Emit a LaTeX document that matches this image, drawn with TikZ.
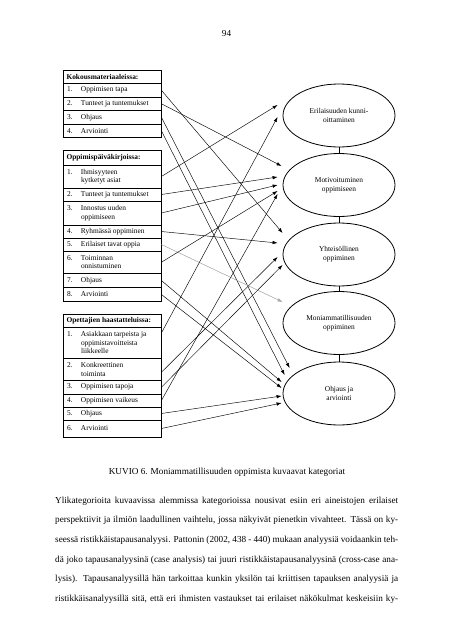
\documentclass[tikz,border=0pt]{standalone}
\usepackage{fontspec}
\setmainfont{Liberation Serif}
\usetikzlibrary{shapes.geometric,arrows.meta}
\newcommand\rw[2]{\parbox[t]{14pt}{#1}\parbox[t]{76pt}{\raggedright #2}}
\newcommand\hd[1]{\parbox[t]{91pt}{\bfseries #1}}
\begin{document}
\begin{tikzpicture}[x=1pt,y=-1pt,
  rowbox/.style={draw, line width=0.8pt, rectangle, minimum width=98pt, inner sep=0pt, font=\fontsize{7.4}{8.5}\selectfont},
  ell/.style={draw, ellipse, line width=0.8pt, minimum width=112pt, minimum height=63pt, inner sep=0pt, align=center, font=\fontsize{7.4}{9}\selectfont},
  link/.style={-{Latex[length=5pt,width=3.4pt]}, line width=0.45pt},
  glink/.style={link, draw=black!35, fill=black!35},
  body/.style={anchor=mid west, inner sep=0pt, font=\fontsize{9.2}{11}\selectfont},
  plain/.style={inner sep=0pt, font=\fontsize{9.2}{11}\selectfont}]
\useasboundingbox (0,0) rectangle (453,640);
\fill[white] (0,0) rectangle (453,640);
\node[plain] (pnum) at (226.5,33) {94};
% Box 1
\node[rowbox, minimum height=13.5pt] (h1) at (112,76.75) {\hd{Kokousmateriaaleissa:}};
\node[rowbox, minimum height=13.5pt] (b1r1) at (112,90.25) {\rw{1.}{Oppimisen tapa}};
\node[rowbox, minimum height=13.5pt] (b1r2) at (112,103.75) {\rw{2.}{Tunteet ja tuntemukset}};
\node[rowbox, minimum height=13.5pt] (b1r3) at (112,117.25) {\rw{3.}{Ohjaus}};
\node[rowbox, minimum height=13.5pt] (b1r4) at (112,130.75) {\rw{4.}{Arviointi}};
% Box 2
\node[rowbox, minimum height=15pt] (h2) at (112,157.5) {\hd{Oppimispäiväkirjoissa:}};
\node[rowbox, minimum height=23pt] (b2r1) at (112,176.5) {\rw{1.}{Ihmisyyteen\\kytketyt asiat}};
\node[rowbox, minimum height=13pt] (b2r2) at (112,194.5) {\rw{2.}{Tunteet ja tuntemukset}};
\node[rowbox, minimum height=24pt] (b2r3) at (112,213) {\rw{3.}{Innostus uuden\\oppimiseen}};
\node[rowbox, minimum height=13pt] (b2r4) at (112,231.5) {\rw{4.}{Ryhmässä oppiminen}};
\node[rowbox, minimum height=13pt] (b2r5) at (112,244.5) {\rw{5.}{Erilaiset tavat oppia}};
\node[rowbox, minimum height=22.5pt] (b2r6) at (112,262.25) {\rw{6.}{Toiminnan\\onnistuminen}};
\node[rowbox, minimum height=14pt] (b2r7) at (112,280.5) {\rw{7.}{Ohjaus}};
\node[rowbox, minimum height=14pt] (b2r8) at (112,294.5) {\rw{8.}{Arviointi}};
% Box 3
\node[rowbox, minimum height=13pt] (h3) at (112,320.5) {\hd{Opettajien haastatteluissa:}};
\node[rowbox, minimum height=31pt] (b3r1) at (112,342.5) {\rw{1.}{Asiakkaan tarpeista ja\\oppimistavoitteista\\liikkeelle}};
\node[rowbox, minimum height=22.5pt] (b3r2) at (112,369.25) {\rw{2.}{Konkreettinen\\toiminta}};
\node[rowbox, minimum height=13.5pt] (b3r3) at (112,387.25) {\rw{3.}{Oppimisen tapoja}};
\node[rowbox, minimum height=13pt] (b3r4) at (112,400.5) {\rw{4.}{Oppimisen vaikeus}};
\node[rowbox, minimum height=13pt] (b3r5) at (112,413.5) {\rw{5.}{Ohjaus}};
\node[rowbox, minimum height=17pt] (b3r6) at (112,428.5) {\rw{6.}{Arviointi}};
% Ellipses
\node[ell] (E1) at (339,115.5) {Erilaisuuden kunni-\\oittaminen};
\node[ell] (E2) at (339,185) {Motivoituminen\\oppimiseen};
\node[ell] (E3) at (339,254.5) {Yhteisöllinen\\oppiminen};
\node[ell] (E4) at (339,323) {Moniammatillisuuden\\oppiminen};
\node[ell] (E5) at (339,393.5) {Ohjaus ja\\arviointi};
\draw[line width=0.6pt] (E1.south) -- (E2.north) (E2.south) -- (E3.north) (E3.south) -- (E4.north) (E4.south) -- (E5.north);
% Connectors
\draw[link] (b1r1.east) -- ([xshift=0pt,yshift=21.5pt]E3.west);
\draw[link] (b1r2.east) -- ([xshift=-1pt,yshift=19pt]E2.west);
\draw[link] (b1r3.east) -- ([xshift=7pt,yshift=25.5pt]E5.west);
\draw[link] (b1r4.east) -- ([xshift=2pt,yshift=18.5pt]E5.west);
\draw[link] (b2r1.east) -- ([xshift=-5pt,yshift=10.5pt]E1.west);
\draw[link] (b2r2.east) -- ([xshift=-5pt,yshift=8pt]E2.west);
\draw[link] (b2r3.east) -- ([xshift=-5pt,yshift=0pt]E2.west);
\draw[link] (b2r4.east) -- ([xshift=-5pt,yshift=11.5pt]E3.west);
\draw[glink] (b2r5.east) -- ([xshift=0pt,yshift=21pt]E4.west);
\draw[link] (b2r6.east) -- ([xshift=-5pt,yshift=-6pt]E2.west);
\draw[link] (b2r7.east) -- ([xshift=-1pt,yshift=11.5pt]E5.west);
\draw[link] (b2r8.east) -- ([xshift=-1pt,yshift=5.5pt]E5.west);
\draw[link] ([yshift=9.5pt]b3r1.east) -- ([xshift=-5pt,yshift=-1.5pt]E1.west);
\draw[link] ([yshift=-3pt]b3r2.east) -- ([xshift=-5pt,yshift=-2.5pt]E3.west);
\draw[link] (b3r3.east) -- ([xshift=0pt,yshift=-10.5pt]E3.west);
\draw[link] (b3r4.east) -- ([xshift=-5pt,yshift=-9pt]E2.west);
\draw[link] (b3r5.east) -- ([xshift=-1pt,yshift=-2.5pt]E5.west);
\draw[link] (b3r6.east) -- ([xshift=-1pt,yshift=-9.5pt]E5.west);
% Caption and text
\node[plain] (cap) at (227,472) {KUVIO 6. Moniammatillisuuden oppimista kuvaavat kategoriat};
\node[body] (t1) at (55,501) {\makebox[343pt][s]{Ylikategorioita kuvaavissa alemmissa kategorioissa nousivat esiin eri aineistojen erilaiset}};
\node[body] (t2) at (55,520.6) {\makebox[343pt][s]{perspektiivit ja ilmiön laadullinen vaihtelu, jossa näkyivät pienetkin vivahteet. Tässä on ky-}};
\node[body] (t3) at (55,540.2) {\makebox[343pt][s]{seessä ristikkäistapausanalyysi. Pattonin (2002, 438 - 440) mukaan analyysiä voidaankin teh-}};
\node[body] (t4) at (55,559.8) {\makebox[343pt][s]{dä joko tapausanalyysinä (case analysis) tai juuri ristikkäistapausanalyysinä (cross-case ana-}};
\node[body] (t5) at (55,579.4) {\makebox[343pt][s]{lysis). Tapausanalyysillä hän tarkoittaa kunkin yksilön tai kriittisen tapauksen analyysiä ja}};
\node[body] (t6) at (55,599) {\makebox[343pt][s]{ristikkäisanalyysillä sitä, että eri ihmisten vastaukset tai erilaiset näkökulmat keskeisiin ky-}};
\end{tikzpicture}
\end{document}
